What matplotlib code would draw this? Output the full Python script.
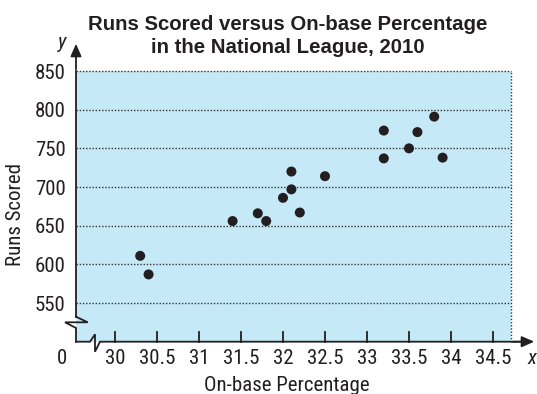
import matplotlib
matplotlib.use("Agg")
import matplotlib.pyplot as plt
from matplotlib.lines import Line2D
from matplotlib.patches import FancyArrowPatch
from matplotlib import font_manager

# ---- data ----
obp = [30.3, 30.4, 31.4, 31.7, 31.8, 32.0, 32.1, 32.1, 32.2, 32.5,
       33.2, 33.2, 33.5, 33.6, 33.8, 33.9]
runs = [611, 587, 656, 666, 656, 686, 697, 720, 667, 714,
        773, 737, 750, 771, 791, 738]
x_ticks = [30, 30.5, 31, 31.5, 32, 32.5, 33, 33.5, 34, 34.5]
x_tick_labels = ["30", "30.5", "31", "31.5", "32", "32.5", "33", "33.5", "34", "34.5"]
y_ticks = [550, 600, 650, 700, 750, 800, 850]
title_lines = ["Runs Scored versus On-base Percentage", "in the National League, 2010"]
xlabel = "On-base Percentage"
ylabel = "Runs Scored"

names = {f.name for f in font_manager.fontManager.ttflist}
narrow = next((n for n in ["Roboto Condensed", "Liberation Sans Narrow", "Archivo Narrow",
                           "PT Sans Narrow", "Roboto"] if n in names), "DejaVu Sans")
NARROW = [narrow, "DejaVu Sans"]
BOLD = ["Liberation Sans", "DejaVu Sans"]

W, H = 537, 394
fig = plt.figure(figsize=(W / 100, H / 100), dpi=100)

def fx(px):
    return px / W

def fy(py):
    return (H - py) / H

x_left, x_right = 76, 511
y_top, y_bot = 71, 341.7
ax = fig.add_axes([fx(x_left), fy(y_bot), fx(x_right) - fx(x_left), fy(y_top) - fy(y_bot)])
XMIN, XMAX = 29.536, 34.714
ax.set_xlim(XMIN, XMAX)
ax.set_ylim(500, 850)
ax.set_facecolor("#C6E9F8")
for s in ax.spines.values():
    s.set_visible(False)
ax.set_xticks([])
ax.set_yticks([])

ink = "#231F20"
# dotted grid lines
for yv in y_ticks:
    ax.axhline(yv, color="#333333", ls=(0, (1, 1.3)), lw=1.0, zorder=1, clip_on=False)
ax.axvline(XMAX, color="#333333", ls=(0, (1, 1.3)), lw=1.0, zorder=1, clip_on=False)

# data points
ax.scatter(obp, runs, s=52, color=ink, zorder=3, edgecolors="none")

def pline(xs, ys, **kw):
    fig.add_artist(Line2D([fx(v) for v in xs], [fy(v) for v in ys],
                          transform=fig.transFigure, color=ink, lw=1.3,
                          solid_joinstyle="miter", **kw))

# y-axis with break
pline([76, 76], [71, 316.7])
pline([76, 87.7, 65, 76, 76], [316.7, 322.3, 322.3, 328, 341.7])
# x-axis with break
pline([76, 90, 95, 95, 100, 530], [341.7, 341.7, 334.3, 351.7, 341.7, 341.7])

# arrows
fig.add_artist(FancyArrowPatch(
    (fx(76), fy(72)), (fx(76), fy(41)), transform=fig.transFigure,
    arrowstyle="-|>,head_length=5,head_width=2.2", color=ink, lw=1.3, mutation_scale=1.5))
fig.add_artist(FancyArrowPatch(
    (fx(510), fy(341.7)), (fx(537), fy(341.7)), transform=fig.transFigure,
    arrowstyle="-|>,head_length=5,head_width=2.2", color=ink, lw=1.3, mutation_scale=1.5))

# x ticks (inward, upward)
PX_PER_UNIT_Y = (341.7 - 71) / 350.0
for xv in x_ticks:
    ax.plot([xv, xv], [500, 500 + 10 / PX_PER_UNIT_Y], color=ink, lw=1.3, zorder=4, clip_on=False)

tick_fs = 15
for xv, lab in zip(x_ticks, x_tick_labels):
    ax.text(xv, 500 - 22.5 / PX_PER_UNIT_Y, lab, ha="center", va="baseline",
            fontsize=tick_fs, family=NARROW, color=ink, clip_on=False)
for yv in y_ticks:
    ax.text(XMIN - 10.5 / 84.0, yv - 7.5 / PX_PER_UNIT_Y, str(yv), ha="right", va="baseline",
            fontsize=tick_fs, family=NARROW, color=ink, clip_on=False)
fig.text(fx(62), fy(364), "0", ha="center", va="baseline", fontsize=tick_fs, family=NARROW, color=ink)

fig.text(fx(62), fy(48), "y", ha="center", va="baseline", fontsize=15, family=NARROW,
         style="italic", color=ink)
fig.text(fx(532), fy(364), "x", ha="center", va="baseline", fontsize=15, family=NARROW,
         style="italic", color=ink)

fig.text(fx(287), fy(391), xlabel, ha="center", va="baseline", fontsize=15, family=NARROW, color=ink)
fig.text(fx(15.5), fy(215), ylabel, ha="center", va="center", fontsize=15, family=NARROW,
         rotation=90, color=ink)

fig.text(fx(288), fy(30), title_lines[0], ha="center", va="baseline", fontsize=14.7, family=BOLD,
         fontweight="bold", color=ink)
fig.text(fx(288), fy(53), title_lines[1], ha="center", va="baseline", fontsize=14.7, family=BOLD,
         fontweight="bold", color=ink)

fig.savefig("out.png", dpi=100)
